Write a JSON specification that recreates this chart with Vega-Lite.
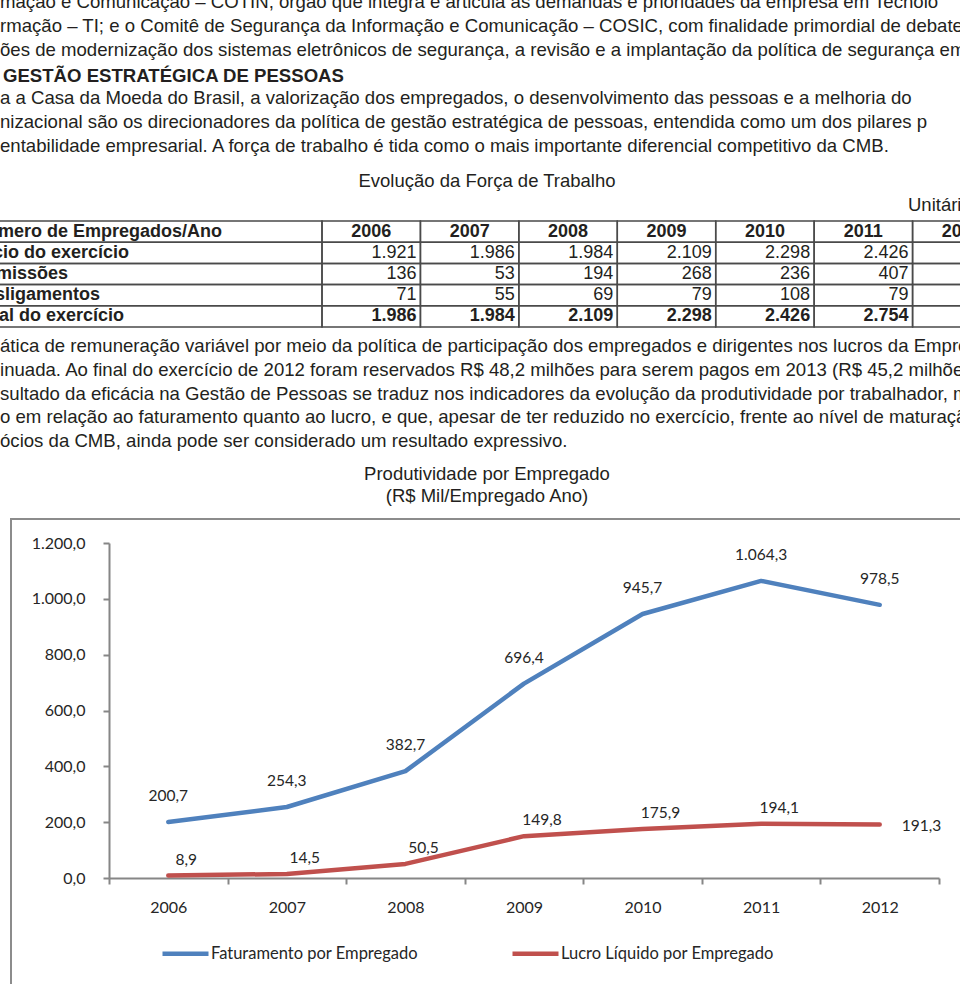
{
  "$schema": "https://vega.github.io/schema/vega-lite/v6.json",
  "autosize": {"type": "none"},
  "width": 830,
  "height": 335,
  "padding": {"left": 109, "top": 543, "right": 21, "bottom": 106},
  "background": "white",
  "config": {
    "view": {"stroke": null},
    "locale": {"number": {"decimal": ",", "thousands": ".", "grouping": [3], "currency": ["R$ ", ""]}}
  },
  "datasets": {
    "top": [
      {"line": 0, "text": "mação e Comunicação – COTIN, órgão que integra e articula as demandas e prioridades da empresa em Tecnolo"},
      {"line": 1, "text": "rmação – TI; e o Comitê de Segurança da Informação e Comunicação – COSIC, com finalidade primordial de debater pr"},
      {"line": 2, "text": "ões de modernização dos sistemas eletrônicos de segurança, a revisão e a implantação da política de segurança empre"},
      {"line": 3, "text": "GESTÃO ESTRATÉGICA DE PESSOAS"},
      {"line": 4, "text": "a a Casa da Moeda do Brasil, a valorização dos empregados, o desenvolvimento das pessoas e a melhoria do"},
      {"line": 5, "text": "nizacional são os direcionadores da política de gestão estratégica de pessoas, entendida como um dos pilares p"},
      {"line": 6, "text": "entabilidade empresarial. A força de trabalho é tida como o mais importante diferencial competitivo da CMB."}
    ],
    "bottom": [
      {"line": 0, "text": "ática de remuneração variável por meio da política de participação dos empregados e dirigentes nos lucros da Empre"},
      {"line": 1, "text": "inuada. Ao final do exercício de 2012 foram reservados R$ 48,2 milhões para serem pagos em 2013 (R$ 45,2 milhões em"},
      {"line": 2, "text": "sultado da eficácia na Gestão de Pessoas se traduz nos indicadores da evolução da produtividade por trabalhador, m"},
      {"line": 3, "text": "o em relação ao faturamento quanto ao lucro, e que, apesar de ter reduzido no exercício, frente ao nível de maturaçã"},
      {"line": 4, "text": "ócios da CMB, ainda pode ser considerado um resultado expressivo."}
    ],
    "table": [
      {"row": "Início do exercício", "year": "2006", "n": 1921},
      {"row": "Início do exercício", "year": "2007", "n": 1986},
      {"row": "Início do exercício", "year": "2008", "n": 1984},
      {"row": "Início do exercício", "year": "2009", "n": 2109},
      {"row": "Início do exercício", "year": "2010", "n": 2298},
      {"row": "Início do exercício", "year": "2011", "n": 2426},
      {"row": "Início do exercício", "year": "2012", "n": 2754},
      {"row": "Admissões", "year": "2006", "n": 136},
      {"row": "Admissões", "year": "2007", "n": 53},
      {"row": "Admissões", "year": "2008", "n": 194},
      {"row": "Admissões", "year": "2009", "n": 268},
      {"row": "Admissões", "year": "2010", "n": 236},
      {"row": "Admissões", "year": "2011", "n": 407},
      {"row": "Admissões", "year": "2012", "n": null},
      {"row": "Desligamentos", "year": "2006", "n": 71},
      {"row": "Desligamentos", "year": "2007", "n": 55},
      {"row": "Desligamentos", "year": "2008", "n": 69},
      {"row": "Desligamentos", "year": "2009", "n": 79},
      {"row": "Desligamentos", "year": "2010", "n": 108},
      {"row": "Desligamentos", "year": "2011", "n": 79},
      {"row": "Desligamentos", "year": "2012", "n": null},
      {"row": "Final do exercício", "year": "2006", "n": 1986},
      {"row": "Final do exercício", "year": "2007", "n": 1984},
      {"row": "Final do exercício", "year": "2008", "n": 2109},
      {"row": "Final do exercício", "year": "2009", "n": 2298},
      {"row": "Final do exercício", "year": "2010", "n": 2426},
      {"row": "Final do exercício", "year": "2011", "n": 2754},
      {"row": "Final do exercício", "year": "2012", "n": null}
    ],
    "prod": [
      {"year": "2006", "series": "Faturamento por Empregado", "value": 200.7},
      {"year": "2007", "series": "Faturamento por Empregado", "value": 254.3},
      {"year": "2008", "series": "Faturamento por Empregado", "value": 382.7},
      {"year": "2009", "series": "Faturamento por Empregado", "value": 696.4},
      {"year": "2010", "series": "Faturamento por Empregado", "value": 945.7},
      {"year": "2011", "series": "Faturamento por Empregado", "value": 1064.3},
      {"year": "2012", "series": "Faturamento por Empregado", "value": 978.5},
      {"year": "2006", "series": "Lucro Líquido por Empregado", "value": 8.9},
      {"year": "2007", "series": "Lucro Líquido por Empregado", "value": 14.5},
      {"year": "2008", "series": "Lucro Líquido por Empregado", "value": 50.5},
      {"year": "2009", "series": "Lucro Líquido por Empregado", "value": 149.8},
      {"year": "2010", "series": "Lucro Líquido por Empregado", "value": 175.9},
      {"year": "2011", "series": "Lucro Líquido por Empregado", "value": 194.1},
      {"year": "2012", "series": "Lucro Líquido por Empregado", "value": 191.3}
    ]
  },
  "layer": [
    {
      "data": {"values": [{"frame": "chart"}]},
      "mark": {"type": "rect", "fill": "transparent", "stroke": "#8c8c8c", "strokeWidth": 2},
      "encoding": {"x": {"value": -98}, "x2": {"value": 880}, "y": {"value": -24}, "y2": {"value": 470}}
    },
    {
      "data": {"name": "top"},
      "layer": [
        {
          "transform": [{"filter": "datum.line != 3"}],
          "mark": {"type": "text", "align": "left", "baseline": "middle", "font": "Liberation Sans", "fontSize": 18.6, "fill": "#231f20"},
          "encoding": {
            "x": {"value": -109},
            "y": {"field": "line", "type": "quantitative", "scale": {"domain": [0, 6], "range": [-541, -397], "nice": false, "zero": false}, "axis": null},
            "text": {"field": "text"}
          }
        },
        {
          "transform": [{"filter": "datum.line == 3"}],
          "mark": {"type": "text", "align": "left", "baseline": "middle", "dy": 2, "font": "Liberation Sans", "fontSize": 18.6, "fontWeight": "bold", "fill": "#231f20"},
          "encoding": {
            "x": {"value": -106},
            "y": {"field": "line", "type": "quantitative", "scale": {"domain": [0, 6], "range": [-541, -397], "nice": false, "zero": false}, "axis": null},
            "text": {"field": "text"}
          }
        }
      ]
    },
    {
      "data": {"name": "bottom"},
      "mark": {"type": "text", "align": "left", "baseline": "middle", "font": "Liberation Sans", "fontSize": 18.6, "fill": "#231f20"},
      "encoding": {
        "x": {"value": -109},
        "y": {"field": "line", "type": "quantitative", "scale": {"domain": [0, 4], "range": [-197, -102], "nice": false, "zero": false}, "axis": null},
        "text": {"field": "text"}
      }
    },
    {
      "data": {"values": [{"caption": "Evolução da Força de Trabalho"}]},
      "mark": {"type": "text", "align": "center", "baseline": "middle", "font": "Liberation Sans", "fontSize": 18.5, "fill": "#231f20"},
      "encoding": {"x": {"value": 378}, "y": {"value": -362}, "text": {"field": "caption"}}
    },
    {
      "data": {"values": [{"caption": "Unitária"}]},
      "mark": {"type": "text", "align": "left", "baseline": "middle", "font": "Liberation Sans", "fontSize": 18.5, "fill": "#231f20"},
      "encoding": {"x": {"value": 799}, "y": {"value": -338}, "text": {"field": "caption"}}
    },
    {
      "data": {"values": [{"caption": "Produtividade por Empregado"}]},
      "mark": {"type": "text", "align": "center", "baseline": "middle", "font": "Liberation Sans", "fontSize": 18.5, "fill": "#231f20"},
      "encoding": {"x": {"value": 378}, "y": {"value": -69}, "text": {"field": "caption"}}
    },
    {
      "data": {"values": [{"caption": "(R$ Mil/Empregado Ano)"}]},
      "mark": {"type": "text", "align": "center", "baseline": "middle", "font": "Liberation Sans", "fontSize": 18.5, "fill": "#231f20"},
      "encoding": {"x": {"value": 378}, "y": {"value": -47}, "text": {"field": "caption"}}
    },
    {
      "data": {"name": "table"},
      "encoding": {
        "x": {"field": "year", "type": "ordinal", "scale": {"domain": ["2006", "2007", "2008", "2009", "2010", "2011", "2012"], "range": [213, 902], "paddingInner": 0, "paddingOuter": 0}, "axis": null},
        "y": {"field": "row", "type": "nominal", "scale": {"domain": ["Número de Empregados/Ano", "Início do exercício", "Admissões", "Desligamentos", "Final do exercício"], "range": [-322, -216], "paddingInner": 0, "paddingOuter": 0}, "axis": null}
      },
      "layer": [
        {
          "mark": {"type": "rect", "fill": "transparent", "stroke": "#4a4a4a", "strokeWidth": 1.5}
        },
        {
          "transform": [{"filter": "datum.row == 'Início do exercício'"}],
          "mark": {"type": "rect", "fill": "transparent", "stroke": "#4a4a4a", "strokeWidth": 1.5},
          "encoding": {"y": {"datum": "Número de Empregados/Ano"}}
        },
        {
          "transform": [{"filter": "datum.year == '2006'"}],
          "mark": {"type": "rect", "fill": "transparent", "stroke": "#4a4a4a", "strokeWidth": 1.5},
          "encoding": {"x": {"value": -140}, "x2": {"value": 213}}
        },
        {
          "transform": [{"filter": "datum.year == '2006' && datum.row == 'Início do exercício'"}],
          "mark": {"type": "rect", "fill": "transparent", "stroke": "#4a4a4a", "strokeWidth": 1.5},
          "encoding": {"x": {"value": -140}, "x2": {"value": 213}, "y": {"datum": "Número de Empregados/Ano"}}
        },
        {
          "transform": [{"filter": "datum.row == 'Início do exercício'"}],
          "mark": {"type": "text", "align": "center", "baseline": "middle", "font": "Liberation Sans", "fontSize": 18, "fontWeight": "bold", "fill": "#231f20"},
          "encoding": {"y": {"datum": "Número de Empregados/Ano"}, "x": {"field": "year", "type": "ordinal", "bandPosition": 0.5}, "text": {"field": "year"}}
        },
        {
          "transform": [{"filter": "datum.year == '2006' && datum.row == 'Início do exercício'"}],
          "mark": {"type": "text", "align": "left", "baseline": "middle", "font": "Liberation Sans", "fontSize": 18, "fontWeight": "bold", "fill": "#231f20"},
          "encoding": {"y": {"datum": "Número de Empregados/Ano"}, "x": {"value": -135}, "text": {"value": "Número de Empregados/Ano"}}
        },
        {
          "transform": [{"filter": "datum.year == '2006'"}],
          "mark": {"type": "text", "align": "left", "baseline": "middle", "font": "Liberation Sans", "fontSize": 18, "fontWeight": "bold", "fill": "#231f20"},
          "encoding": {"x": {"value": -137}, "y": {"field": "row", "type": "nominal", "bandPosition": 0.5}, "text": {"field": "row"}}
        },
        {
          "transform": [{"filter": "isValid(datum.n) && datum.row != 'Final do exercício'"}],
          "mark": {"type": "text", "align": "right", "baseline": "middle", "dx": -4, "font": "Liberation Sans", "fontSize": 18, "fill": "#231f20"},
          "encoding": {"x": {"field": "year", "type": "ordinal", "bandPosition": 1}, "y": {"field": "row", "type": "nominal", "bandPosition": 0.5}, "text": {"field": "n", "format": ","}}
        },
        {
          "transform": [{"filter": "isValid(datum.n) && datum.row == 'Final do exercício'"}],
          "mark": {"type": "text", "align": "right", "baseline": "middle", "dx": -4, "font": "Liberation Sans", "fontSize": 18, "fontWeight": "bold", "fill": "#231f20"},
          "encoding": {"x": {"field": "year", "type": "ordinal", "bandPosition": 1}, "y": {"field": "row", "type": "nominal", "bandPosition": 0.5}, "text": {"field": "n", "format": ","}}
        }
      ]
    },
    {
      "data": {"name": "prod"},
      "layer": [
        {
          "mark": {"type": "line", "strokeWidth": 4.5, "strokeCap": "round", "strokeJoin": "round"},
          "encoding": {
            "x": {"field": "year", "type": "ordinal", "bandPosition": 0.5, "scale": {"type": "band", "paddingInner": 0, "paddingOuter": 0},
              "axis": {"title": null, "labelAngle": 0, "tickBand": "extent", "domainColor": "#868686", "domainWidth": 2, "tickColor": "#868686", "tickWidth": 2, "tickSize": 6, "labelFont": "Lato", "labelFontSize": 16, "labelColor": "#262626", "labelPadding": 15, "grid": false}},
            "y": {"field": "value", "type": "quantitative", "scale": {"domain": [0, 1200], "nice": false},
              "axis": {"title": null, "values": [0, 200, 400, 600, 800, 1000, 1200], "format": ",.1f", "grid": false, "domainColor": "#868686", "domainWidth": 2, "tickColor": "#868686", "tickWidth": 2, "tickSize": 6, "labelFont": "Lato", "labelFontSize": 16, "labelColor": "#262626", "labelPadding": 18}},
            "color": {"field": "series", "type": "nominal",
              "scale": {"domain": ["Faturamento por Empregado", "Lucro Líquido por Empregado"], "range": ["#4f81bd", "#c0504d"]},
              "legend": {"orient": "none", "legendX": 51, "legendY": 385, "direction": "horizontal", "title": null, "symbolType": "stroke", "symbolSize": 2116, "symbolStrokeWidth": 4.5, "labelFont": "Lato", "labelFontSize": 16.5, "labelColor": "#262626", "labelOffset": 0, "labelLimit": 400, "columnPadding": 85, "padding": 0}}
          }
        },
        {
          "transform": [{"filter": "datum.series == 'Faturamento por Empregado'"}],
          "mark": {"type": "text", "align": "center", "baseline": "middle", "dy": -26, "font": "Lato", "fontSize": 15.5, "fill": "#262626"},
          "encoding": {"x": {"field": "year", "type": "ordinal", "bandPosition": 0.5}, "y": {"field": "value", "type": "quantitative"}, "text": {"field": "value", "format": ",.1f"}}
        },
        {
          "transform": [{"filter": "datum.series == 'Lucro Líquido por Empregado' && datum.year != '2012'"}],
          "mark": {"type": "text", "align": "center", "baseline": "middle", "dx": 18, "dy": -16, "font": "Lato", "fontSize": 15.5, "fill": "#262626"},
          "encoding": {"x": {"field": "year", "type": "ordinal", "bandPosition": 0.5}, "y": {"field": "value", "type": "quantitative"}, "text": {"field": "value", "format": ",.1f"}}
        },
        {
          "transform": [{"filter": "datum.series == 'Lucro Líquido por Empregado' && datum.year == '2012'"}],
          "mark": {"type": "text", "align": "left", "baseline": "middle", "dx": 22, "dy": 1, "font": "Lato", "fontSize": 15.5, "fill": "#262626"},
          "encoding": {"x": {"field": "year", "type": "ordinal", "bandPosition": 0.5}, "y": {"field": "value", "type": "quantitative"}, "text": {"field": "value", "format": ",.1f"}}
        }
      ]
    }
  ],
  "resolve": {"scale": {"x": "independent", "y": "independent"}}
}
